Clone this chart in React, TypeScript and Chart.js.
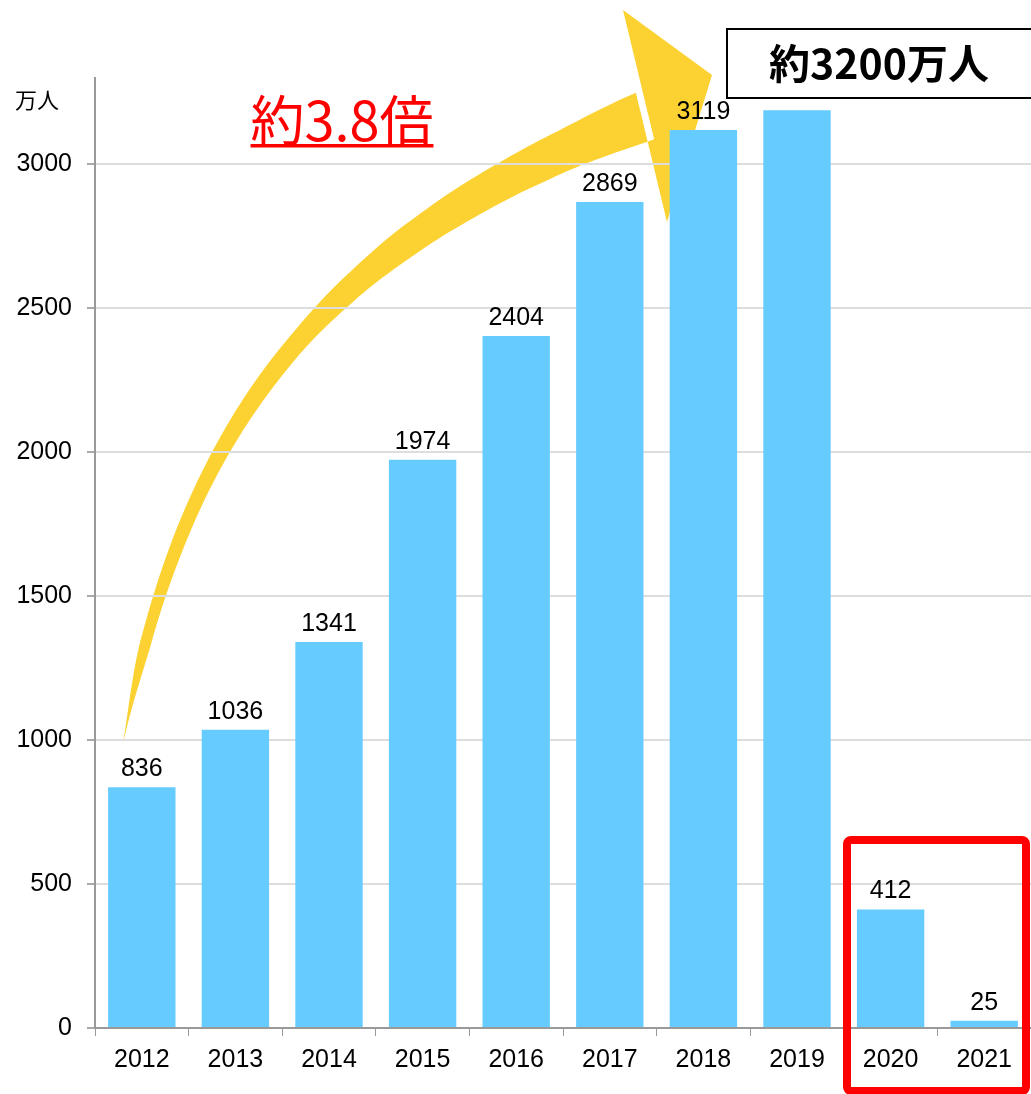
import React, { useEffect, useRef } from "react";
import { Chart, registerables } from "chart.js";

Chart.register(...registerables);

const YEARS = ["2012", "2013", "2014", "2015", "2016", "2017", "2018", "2019", "2020", "2021"];
const VISITORS = [836, 1036, 1341, 1974, 2404, 2869, 3119, 3188, 412, 25];
const Y_TICKS = [0, 500, 1000, 1500, 2000, 2500, 3000];
const Y_MAX = 3300;
const UNIT_LABEL = "万人";
const GROWTH_LABEL = "約3.8倍";
const PEAK_LABEL = "約3200万人";

const FONT = '"Liberation Sans", Arial, sans-serif';
const CJK = '"Noto Sans CJK JP", "Noto Sans", sans-serif';

// Decorative arrow (annotation, not data): centre-line bezier + taper + head
const ARROW_CURVE: [number, number][] = [[123, 744], [186, 399], [346, 233], [645, 116]];
const ARROW_WIDTH_T = [0, 0.1, 0.25, 0.5, 0.6, 0.7, 0.8, 0.9, 1];
const ARROW_WIDTH_W = [0, 11, 14, 19, 24, 30, 35, 40, 50];
const ARROW_HEAD: [number, number][] = [[623, 10], [712, 75], [667, 222]];

function bez(t: number, i: number) {
  const u = 1 - t;
  const P = ARROW_CURVE;
  return u * u * u * P[0][i] + 3 * u * u * t * P[1][i] + 3 * u * t * t * P[2][i] + t * t * t * P[3][i];
}
function bezD(t: number, i: number) {
  const u = 1 - t;
  const P = ARROW_CURVE;
  return 3 * u * u * (P[1][i] - P[0][i]) + 6 * u * t * (P[2][i] - P[1][i]) + 3 * t * t * (P[3][i] - P[2][i]);
}
function widthAt(t: number) {
  for (let k = 0; k < ARROW_WIDTH_T.length - 1; k++) {
    const a = ARROW_WIDTH_T[k];
    const b = ARROW_WIDTH_T[k + 1];
    if (t <= b) {
      const f = (t - a) / (b - a);
      const s = f * f * (3 - 2 * f) * 0.5 + f * 0.5;
      return ARROW_WIDTH_W[k] + (ARROW_WIDTH_W[k + 1] - ARROW_WIDTH_W[k]) * s;
    }
  }
  return ARROW_WIDTH_W[ARROW_WIDTH_W.length - 1];
}

function drawArrow(ctx: CanvasRenderingContext2D) {
  const N = 120;
  const upper: [number, number][] = [];
  const lower: [number, number][] = [];
  for (let k = 0; k <= N; k++) {
    const t = k / N;
    const x = bez(t, 0);
    const y = bez(t, 1);
    const dx = bezD(t, 0);
    const dy = bezD(t, 1);
    const len = Math.hypot(dx, dy) || 1;
    const nx = dy / len;
    const ny = -dx / len;
    const h = widthAt(t) / 2;
    upper.push([x - nx * h, y - ny * h]);
    lower.push([x + nx * h, y + ny * h]);
  }
  ctx.beginPath();
  ctx.moveTo(upper[0][0], upper[0][1]);
  upper.forEach((p) => ctx.lineTo(p[0], p[1]));
  ARROW_HEAD.forEach((p) => ctx.lineTo(p[0], p[1]));
  for (let k = lower.length - 1; k >= 0; k--) ctx.lineTo(lower[k][0], lower[k][1]);
  ctx.closePath();
  ctx.fill();
}

const decorPlugin = {
  id: "decor",
  beforeDraw(chart: any) {
    const ctx = chart.ctx as CanvasRenderingContext2D;
    ctx.save();
    ctx.fillStyle = "#FCD232";
    drawArrow(ctx);
    ctx.restore();
  },
  afterDatasetsDraw(chart: any) {
    const ctx = chart.ctx as CanvasRenderingContext2D;
    const meta = chart.getDatasetMeta(0);
    ctx.save();
    ctx.font = `25px ${FONT}`;
    ctx.fillStyle = "#000";
    ctx.textAlign = "center";
    ctx.textBaseline = "alphabetic";
    meta.data.forEach((el: any, i: number) => {
      ctx.fillText(String(VISITORS[i]), el.x, el.y - 11);
    });
    ctx.restore();
  },
  afterDraw(chart: any) {
    const ctx = chart.ctx as CanvasRenderingContext2D;
    ctx.save();
    // unit label
    ctx.font = `22px ${CJK}`;
    ctx.fillStyle = "#000";
    ctx.textAlign = "center";
    ctx.textBaseline = "middle";
    ctx.fillText(UNIT_LABEL, 37, 100);

    // growth label
    ctx.font = `54px ${CJK}`;
    ctx.fillStyle = "#FF0000";
    ctx.textAlign = "center";
    ctx.textBaseline = "alphabetic";
    const gx = 342;
    ctx.fillText(GROWTH_LABEL, gx, 141);
    const w = ctx.measureText(GROWTH_LABEL).width;
    ctx.fillRect(gx - w / 2, 144, w, 3.5);

    // peak box
    ctx.fillStyle = "#fff";
    ctx.fillRect(726, 28, 330, 70);
    ctx.strokeStyle = "#000";
    ctx.lineWidth = 2;
    ctx.strokeRect(727, 29, 330, 69);
    ctx.font = `bold 41px ${CJK}`;
    ctx.fillStyle = "#000";
    ctx.textAlign = "center";
    ctx.textBaseline = "middle";
    ctx.fillText(PEAK_LABEL, 879, 63);

    // red frame
    ctx.strokeStyle = "#FF0000";
    ctx.lineWidth = 8;
    ctx.lineJoin = "round";
    ctx.beginPath();
    (ctx as any).roundRect(847, 840, 179, 251, 4);
    ctx.stroke();
    ctx.restore();
  },
};

export default function App() {
  const ref = useRef<HTMLCanvasElement | null>(null);
  useEffect(() => {
    if (!ref.current) return;
    const chart = new Chart(ref.current, {
      type: "bar",
      data: {
        labels: YEARS,
        datasets: [
          {
            data: VISITORS,
            backgroundColor: "#66CCFF",
            borderWidth: 0,
            categoryPercentage: 0.72,
            barPercentage: 1,
          },
        ],
      },
      options: {
        responsive: false,
        animation: false,
        layout: { padding: { top: 78, right: 0, bottom: 0, left: 0 } },
        plugins: { legend: { display: false }, tooltip: { enabled: false } },
        scales: {
          x: {
            grid: {
              display: true,
              drawOnChartArea: false,
              drawTicks: true,
              tickLength: 8,
              tickColor: "#999",
              offset: true,
            },
            border: { display: true, color: "#999", width: 2 },
            ticks: {
              color: "#000",
              font: { family: FONT, size: 25 },
              padding: 9,
              maxRotation: 0,
            },
            afterFit: (s: any) => {
              s.height = 66;
            },
          },
          y: {
            min: 0,
            max: Y_MAX,
            afterBuildTicks: (s: any) => {
              s.ticks = Y_TICKS.map((v) => ({ value: v }));
            },
            grid: {
              color: "#DDDDDD",
              lineWidth: 2,
              tickLength: 8,
              tickColor: "#AAAAAA",
            },
            border: { display: true, color: "#999", width: 2 },
            ticks: {
              color: "#000",
              font: { family: FONT, size: 25 },
              padding: 15,
              callback: (v: any) => String(v),
            },
            afterFit: (s: any) => {
              s.width = 95;
            },
          },
        },
      },
      plugins: [decorPlugin],
    });
    return () => chart.destroy();
  }, []);
  return (
    <div style={{ position: "absolute", left: 0, top: 0, width: 1031, height: 1094 }}>
      <canvas ref={ref} width={1031} height={1094} style={{ display: "block" }} />
    </div>
  );
}
